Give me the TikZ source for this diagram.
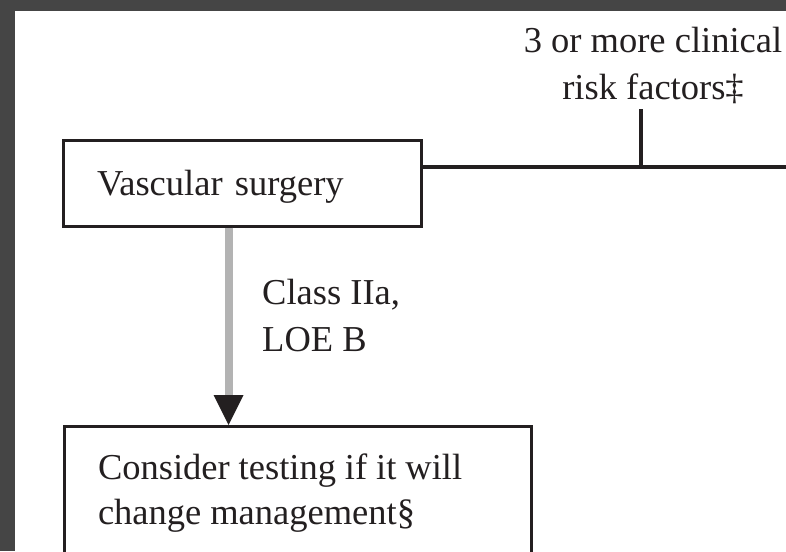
\documentclass[tikz,border=0pt]{standalone}
\usepackage{fontspec}
\setmainfont{Liberation Serif}
\usetikzlibrary{arrows.meta,calc}
\definecolor{ink}{HTML}{231F20}
\definecolor{framegray}{HTML}{454545}
\definecolor{arrgray}{HTML}{B3B3B3}
\newcommand{\tightspaces}{\spaceskip=0.245em\relax}
\begin{document}
\begin{tikzpicture}[x=1pt,y=-1pt,
  every node/.style={font=\fontsize{36.5}{47}\selectfont, text=ink},
  box/.style={draw=ink, line width=3pt, rectangle, inner xsep=34pt, inner ysep=0pt, align=left},
  lbl/.style={inner sep=0pt},
  link/.style={draw=ink, line width=3.5pt},
  grayarrow/.style={draw=arrgray, line width=8pt,
    -{Triangle[length=30pt,width=30pt,line width=0pt,color=ink,fill=ink]}}
]
\useasboundingbox (0,0) rectangle (786,551);
\clip (0,0) rectangle (786,551);
\fill[white] (0,0) rectangle (786,551);
\fill[framegray] (0,0) rectangle (786,11);
\fill[framegray] (0,0) rectangle (15,551);

\node[box, text width=290pt, minimum height=86pt, text height=31pt, text depth=7pt]
  (vasc) at (242,183) {Vascular surgery};

\node[box, text width=399pt, minimum height=134pt, anchor=north,
  font=\fontsize{36.5}{45}\selectfont]
  (cons) at (297.5,425) {\tightspaces Consider testing if it will\\change management§};

\node[lbl, align=center, anchor=north] (rf) at (653,27) {3 or more clinical\\risk factors‡};

\node[lbl, align=left, anchor=north west] (cls) at (262,279) {Class IIa,\\LOE B};

\coordinate (rightend) at (790,167);
\coordinate (j) at (641,167);
\coordinate (rftop) at (641,109);
\coordinate (ax) at (228.5,0);

\draw[link] (vasc.east |- rightend) -- (rightend);
\draw[link] (j) -- (rftop);
\draw[grayarrow] (vasc.south -| ax) -- (cons.north -| ax);
\end{tikzpicture}
\end{document}
